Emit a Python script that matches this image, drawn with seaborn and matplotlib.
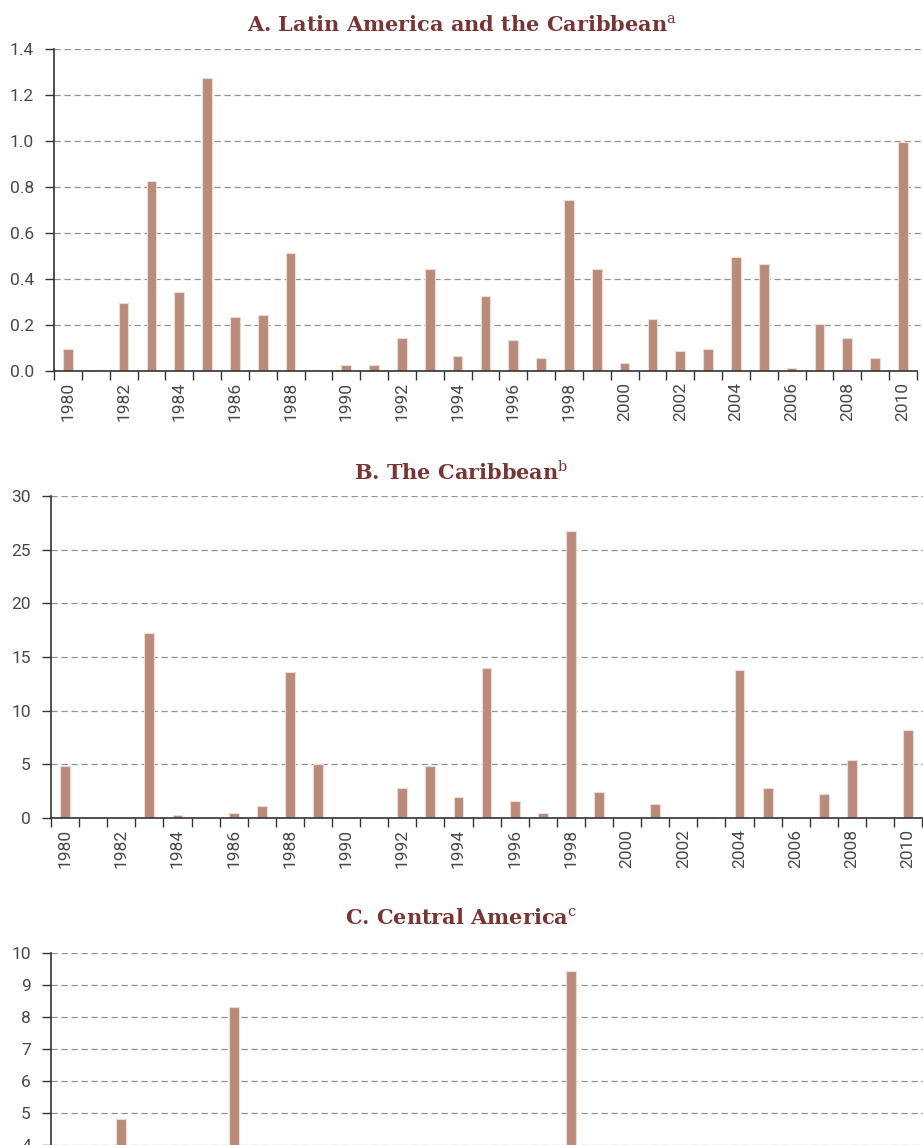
import numpy as np
import pandas as pd
import matplotlib
matplotlib.use("Agg")
import matplotlib.pyplot as plt
import seaborn as sns

years = [str(y) for y in range(1980, 2011)]

# A. Latin America and the Caribbean
latam = [0.095, 0.005, 0.295, 0.825, 0.345, 1.275, 0.235, 0.245, 0.515, 0.005,
         0.025, 0.025, 0.145, 0.445, 0.065, 0.325, 0.135, 0.055, 0.745, 0.445,
         0.035, 0.225, 0.085, 0.095, 0.495, 0.465, 0.015, 0.205, 0.145, 0.055,
         0.995]

# B. The Caribbean
caribbean = [4.8, 0.0, 0.0, 17.2, 0.3, 0.1, 0.5, 1.1, 13.6, 5.0,
             0.0, 0.1, 2.8, 4.8, 2.0, 14.0, 1.55, 0.5, 26.7, 2.4,
             0.1, 1.35, 0.05, 0.05, 13.8, 2.8, 0.0, 2.2, 5.4, 0.05,
             8.2]

# C. Central America (only bars above ~4 are visible in the cropped picture)
central = [0.0, 0.0, 4.8, 0.0, 0.0, 0.0, 8.3, 0.0, 0.0, 0.0,
           0.0, 0.0, 0.0, 0.0, 0.0, 0.0, 0.0, 0.0, 9.45, 0.0,
           0.0, 0.0, 0.0, 0.0, 0.0, 0.0, 0.0, 0.0, 0.0, 0.0,
           0.0]

titles = ["A. Latin America and the Caribbean", "B. The Caribbean", "C. Central America"]
notes = ["a", "b", "c"]

BAR = "#ba8b7b"
EDGE = "#ecdcd6"
TITLE_C = "#7a3433"
TXT = "#484848"

sns.set_theme(style="white")
plt.rcParams["font.family"] = ["Roboto", "DejaVu Sans"]
plt.rcParams["mathtext.fontset"] = "custom"
plt.rcParams["mathtext.rm"] = "DejaVu Serif"

W, H = 923, 1145
fig = plt.figure(figsize=(W / 100, H / 100), dpi=100)

# axes boxes in pixels: left, right, y of top tick, y of zero
boxes = [(54, 923, 49, 371), (51, 923, 496, 818), (51, 923, 953, 1273)]
xmax_cat = [30.72, 30.53, 30.53]
ylims = [(0, 1.4), (0, 30), (0, 10)]
ysteps = [0.2, 5, 1]
ylab_from = [0, 0, 4]   # panel C is cut off below 4 in the picture
yfmt = ["{:.1f}", "{:.0f}", "{:.0f}"]
title_base = [32, 480, 925]
series = [latam, caribbean, central]

for i, vals in enumerate(series):
    l, r, t, b = boxes[i]
    ax = fig.add_axes([l / W, 1 - b / H, (r - l) / W, (b - t) / H])
    df = pd.DataFrame({"year": years, "value": vals})
    sns.barplot(data=df, x="year", y="value", color=BAR, saturation=1,
                width=0.35, edgecolor=EDGE, linewidth=0.8, ax=ax)
    ax.set_xlim(-0.5, xmax_cat[i])
    ax.set_ylim(*ylims[i])
    yt = np.arange(ylab_from[i], ylims[i][1] + ysteps[i] / 2, ysteps[i])
    ax.set_yticks(yt)
    ax.set_yticklabels([yfmt[i].format(v) for v in yt])
    ax.set_xlabel("")
    ax.set_ylabel("")

    # ticks on category boundaries, labels on every other year
    ax.set_xticks(np.arange(-0.5, 31, 1))
    ax.set_xticklabels([])
    if i < 2:
        ax.set_xticks(np.arange(0, 31, 2), minor=True)
        ax.set_xticklabels(years[::2], minor=True, rotation=90, va="top")
    ax.tick_params(axis="x", which="major", length=6.5, width=1, color="#333333",
                   direction="out", bottom=True)
    ax.tick_params(axis="x", which="minor", length=0, pad=8, labelsize=12.5,
                   labelcolor=TXT, bottom=True)
    ax.tick_params(axis="y", length=6.5, width=1, color="#333333", direction="out",
                   pad=8, labelsize=12.5, labelcolor=TXT, left=True)

    ax.set_axisbelow(True)
    ax.grid(axis="y", color="#919191", linestyle=(0, (5, 3)), linewidth=0.9)
    ax.grid(axis="x", visible=False)
    for s in ["top", "right"]:
        ax.spines[s].set_visible(False)
    for s in ["left", "bottom"]:
        ax.spines[s].set_color("#333333")
        ax.spines[s].set_linewidth(1.2)
    ax.spines["bottom"].set_bounds(-0.5, 30.5)

    fig.text(0.5, 1 - title_base[i] / H, titles[i] + "$^{\\mathrm{" + notes[i] + "}}$",
             ha="center", va="baseline", fontsize=15, fontweight="bold",
             family="DejaVu Serif", color=TITLE_C)

fig.savefig("out.png", dpi=100)
